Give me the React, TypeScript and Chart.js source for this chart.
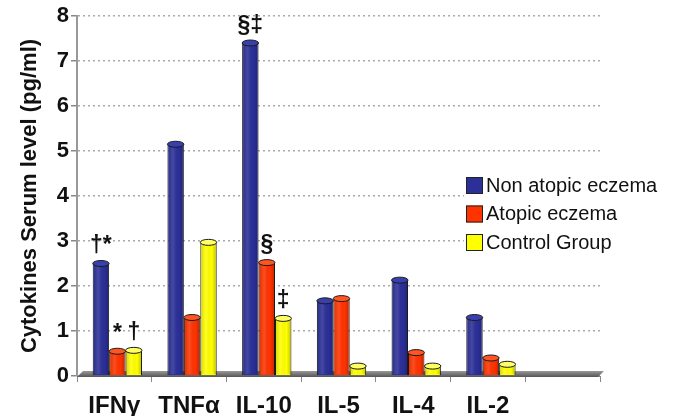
import React, { useEffect, useRef } from "react";
import { Chart, registerables } from "chart.js";

Chart.register(...registerables);

const categories = ["IFNγ", "TNFα", "IL-10", "IL-5", "IL-4", "IL-2", ""];
const nonAtopic = [2.5, 5.15, 7.4, 1.67, 2.13, 1.3, null];
const atopic = [0.55, 1.3, 2.52, 1.72, 0.52, 0.4, null];
const control = [0.57, 2.97, 1.28, 0.22, 0.22, 0.26, null];
const seriesNames = ["Non atopic eczema", "Atopic eczema", "Control Group"];
const seriesColors = ["#2B2F98", "#FF3300", "#FFFF00"];
const topColors = ["#3A3FB0", "#FF5522", "#FFFF66"];
const yTicks = [0, 1, 2, 3, 4, 5, 6, 7, 8];
// significance marks: [datasetIndex, categoryIndex, text]
const marks: [number, number, string][] = [
  [0, 0, "†*"],
  [1, 0, "*"],
  [2, 0, "†"],
  [0, 2, "§‡"],
  [1, 2, "§"],
  [2, 2, "‡"],
];
const DEPTH_SHIFT = 3;

const cylinderPlugin = {
  id: "cylinder",
  afterUpdate(chart: any) {
    chart.data.datasets.forEach((_: any, di: number) => {
      chart.getDatasetMeta(di).data.forEach((bar: any) => {
        bar.x += DEPTH_SHIFT;
      });
    });
  },
  beforeDatasetsDraw(chart: any) {
    const { ctx, chartArea } = chart;
    const y = chartArea.bottom;
    ctx.save();
    ctx.beginPath();
    ctx.moveTo(chartArea.left, y + 1);
    ctx.lineTo(chartArea.left + 6, y - 5);
    ctx.lineTo(chartArea.right + 4, y - 5);
    ctx.lineTo(chartArea.right - 2, y + 1);
    ctx.closePath();
    const g = ctx.createLinearGradient(0, y - 5, 0, y + 1);
    g.addColorStop(0, "#9a9a9a");
    g.addColorStop(1, "#555555");
    ctx.fillStyle = g;
    ctx.fill();
    ctx.restore();
  },
  afterDatasetsDraw(chart: any) {
    const { ctx } = chart;
    ctx.save();
    chart.data.datasets.forEach((ds: any, di: number) => {
      const meta = chart.getDatasetMeta(di);
      meta.data.forEach((bar: any, i: number) => {
        if (ds.data[i] == null) return;
        const w = bar.width;
        const left = bar.x - w / 2;
        const g = ctx.createLinearGradient(left, 0, left + w, 0);
        g.addColorStop(0, "rgba(0,0,0,0.18)");
        g.addColorStop(0.35, "rgba(255,255,255,0.12)");
        g.addColorStop(0.7, "rgba(0,0,0,0)");
        g.addColorStop(1, "rgba(0,0,0,0.25)");
        ctx.fillStyle = g;
        ctx.fillRect(left + 1, bar.y, w - 2, bar.base - bar.y - 1);
        ctx.beginPath();
        ctx.ellipse(bar.x, bar.y, w / 2, 3, 0, 0, Math.PI * 2);
        ctx.fillStyle = topColors[di];
        ctx.fill();
        ctx.lineWidth = 1;
        ctx.strokeStyle = "#1a1a1a";
        ctx.stroke();
      });
    });
    ctx.fillStyle = "#111";
    ctx.font = "bold 23px 'Liberation Sans', Arial, sans-serif";
    ctx.textAlign = "center";
    ctx.textBaseline = "bottom";
    marks.forEach(([di, ci, t]) => {
      const bar = chart.getDatasetMeta(di).data[ci];
      ctx.fillText(t, bar.x, bar.y - 6);
    });
    ctx.restore();
  },
  afterDraw(chart: any) {
    const { ctx } = chart;
    ctx.save();
    const x0 = 466;
    const y0 = 177;
    ctx.fillStyle = "#ffffff";
    ctx.fillRect(x0 - 2, y0 - 4, 205, 84);
    ctx.font = "20px 'Liberation Sans', Arial, sans-serif";
    ctx.textBaseline = "middle";
    ctx.textAlign = "left";
    seriesNames.forEach((name, i) => {
      const yy = y0 + i * 28.5;
      ctx.fillStyle = seriesColors[i];
      ctx.fillRect(x0, yy, 17, 17);
      ctx.strokeStyle = "#222";
      ctx.lineWidth = 1;
      ctx.strokeRect(x0 + 0.5, yy + 0.5, 16, 16);
      ctx.fillStyle = "#111";
      ctx.fillText(name, x0 + 20, yy + 9);
    });
    ctx.restore();
  },
};

export default function App() {
  const ref = useRef<HTMLCanvasElement>(null);
  useEffect(() => {
    if (!ref.current) return;
    const data = [nonAtopic, atopic, control];
    const chart = new Chart(ref.current, {
      type: "bar",
      data: {
        labels: categories,
        datasets: data.map((d, i) => ({
          label: seriesNames[i],
          data: d,
          backgroundColor: seriesColors[i],
          borderColor: "#1a1a1a",
          borderWidth: 1,
          categoryPercentage: 0.66,
          barPercentage: 1,
        })),
      },
      plugins: [cylinderPlugin],
      options: {
        animation: false,
        responsive: false,
        events: [],
        layout: { padding: { top: 16, right: 78, left: 0, bottom: 0 } },
        plugins: { legend: { display: false }, tooltip: { enabled: false } },
        scales: {
          x: {
            grid: {
              drawOnChartArea: false,
              drawTicks: true,
              tickLength: 6,
              color: "#888",
              offset: true,
            },
            border: { display: true, color: "#888", width: 1 },
            ticks: {
              color: "#111",
              font: { family: "'Liberation Sans', Arial, sans-serif", size: 24, weight: "bold" },
              padding: 10,
              maxRotation: 0,
              autoSkip: false,
            },
            afterFit: (s: any) => {
              s.height = 40;
            },
          },
          y: {
            min: 0,
            max: 8,
            afterBuildTicks: (s: any) => {
              s.ticks = yTicks.map((v) => ({ value: v }));
            },
            grid: {
              color: "#aaaaaa",
              lineWidth: 1.5,
              tickLength: 6,
              tickColor: "#888",
            } as any,
            border: { display: true, color: "#999", width: 2, dash: [2, 3] } as any,
            ticks: {
              color: "#111",
              font: { family: "'Liberation Sans', Arial, sans-serif", size: 22, weight: "bold" },
              padding: 2,
            },
            title: {
              display: true,
              text: "Cytokines Serum level (pg/ml)",
              color: "#111",
              font: { family: "'Liberation Sans', Arial, sans-serif", size: 22, weight: "bold" },
              padding: { top: 17, bottom: 0 },
            },
            afterFit: (s: any) => {
              s.width = 77;
            },
          },
        },
      },
    });
    return () => chart.destroy();
  }, []);
  return (
    <div style={{ position: "absolute", left: 0, top: 0, width: 678, height: 416, background: "#fff" }}>
      <canvas ref={ref} width={678} height={416} />
    </div>
  );
}
